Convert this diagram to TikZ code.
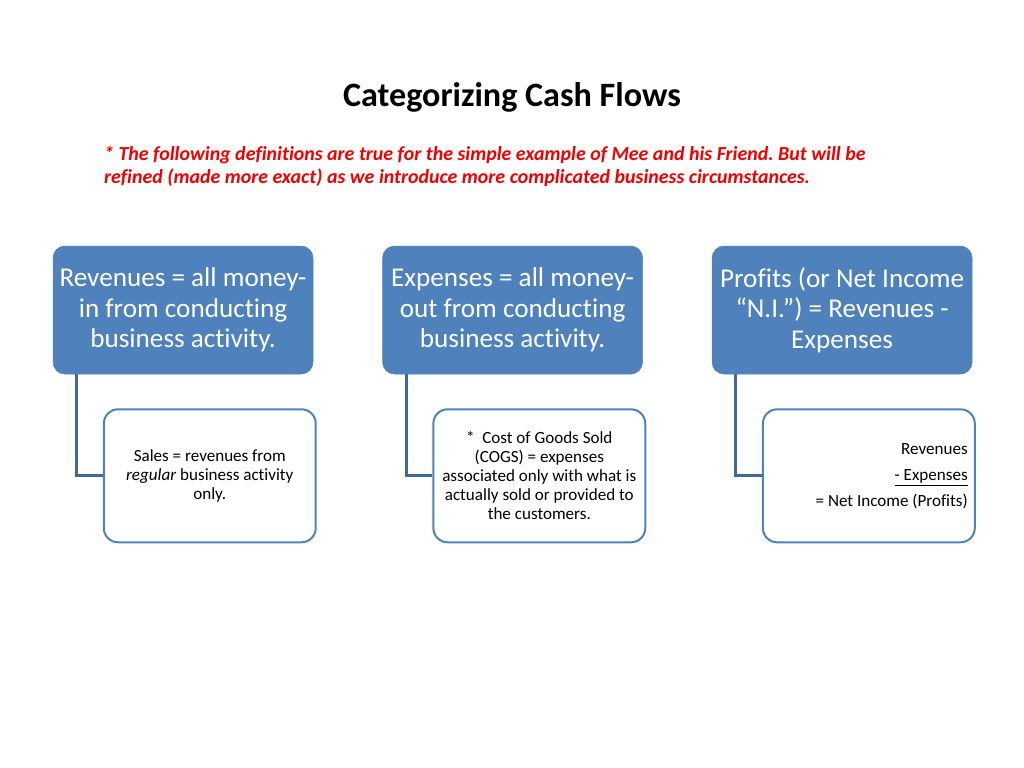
\documentclass[tikz,border=0pt]{standalone}
\usepackage{fontspec}
\setmainfont[Ligatures=NoCommon]{Carlito}
\usepackage{tikz}
\usetikzlibrary{positioning}
\definecolor{boxblue}{HTML}{4F81BD}
\definecolor{linkblue}{HTML}{41689B}
\definecolor{notered}{HTML}{F00000}
\frenchspacing
\tikzset {
    node distance=48.5pt,
    topbox/.style={draw=boxblue, fill=boxblue, rounded corners=8.4pt,
        minimum width=182.8pt, minimum height=90pt, text=white, align=center,
        font=\fontsize{19.1}{21.3}\selectfont},
    subbox/.style={draw=boxblue, line width=1.4pt, fill=white, rounded corners=10pt,
        minimum width=149pt, minimum height=93.5pt, align=center,
        font=\fontsize{12}{13.2}\selectfont},
    link/.style={draw=linkblue, line width=2pt}
}
\begin{document}
\begin{tikzpicture}
                    \useasboundingbox (0,0) rectangle (720pt,-540pt);
                    \node[font=\fontsize{24}{28}\selectfont\bfseries] (title) at (360pt,-68.2pt) {Categorizing Cash Flows};
                    \node[anchor=north west, inner sep=0pt, text=notered, align=left,
                        font=\fontsize{14}{16.4}\selectfont\bfseries\itshape] (note) at (73pt,-102.5pt)
                        {* The following definitions are true for the simple example of Mee and his Friend. But will be\\
                        refined (made more exact) as we introduce more complicated business circumstances.};

                    \node[topbox] (rev) at (128.7pt,-218pt) {Revenues = all money-\\in from conducting\\business activity.};
                    \node[topbox, right=of rev] (exp) {Expenses = all money-\\out from conducting\\business activity.};
                    \node[topbox, right=of exp] (prof) {Profits (or Net Income\\“N.I.”) = Revenues -\\Expenses};

                    \node[subbox, below right=23.9pt and 35.2pt of rev.south west] (sales)
                        {Sales = revenues from\\\textit{regular} business activity\\only.};
                    \node[subbox, below right=23.9pt and 35.2pt of exp.south west, font=\fontsize{12}{13.4}\selectfont] (cogs)
                        {*\ \ Cost of Goods Sold\\(COGS) = expenses\\associated only with what is\\actually sold or provided to\\the customers.};
                    \node[subbox, below right=23.9pt and 35.2pt of prof.south west, text width=139pt, align=flush right,
                        font=\fontsize{12}{18.3}\selectfont] (ni)
                        {Revenues\\\underline{- Expenses}\\= Net Income (Profits)};

                    \draw[link] ([xshift=16.9pt]rev.south west) |- (sales.west);
                    \draw[link] ([xshift=16.9pt]exp.south west) |- (cogs.west);
                    \draw[link] ([xshift=16.9pt]prof.south west) |- (ni.west);
                    \end{tikzpicture}
\end{document}
